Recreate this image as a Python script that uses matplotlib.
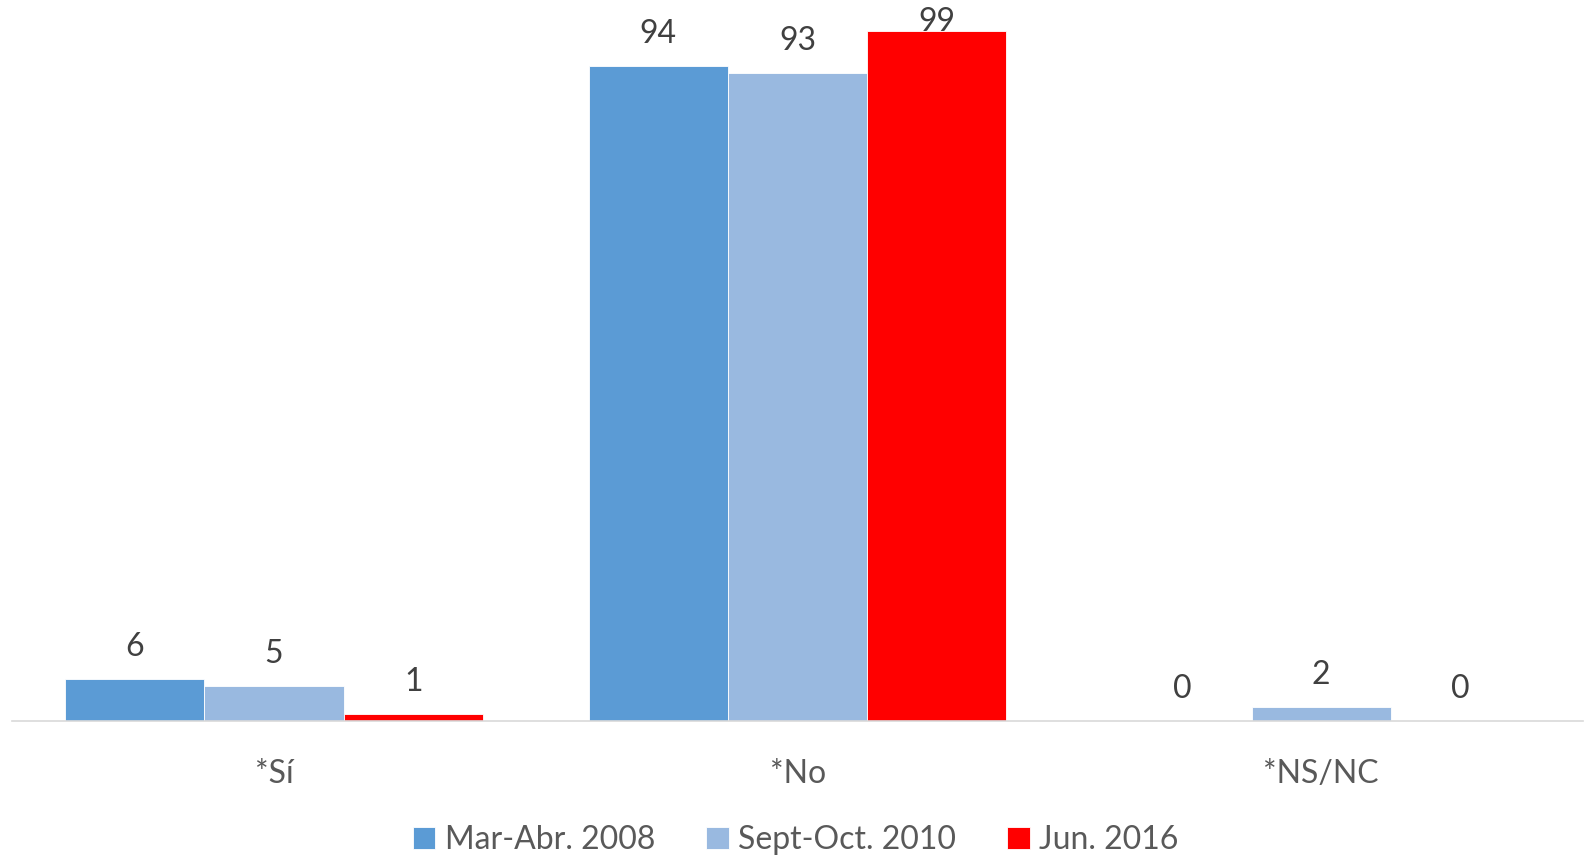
import matplotlib
matplotlib.use("Agg")
import matplotlib.pyplot as plt
import numpy as np

categories = ["*Sí", "*No", "*NS/NC"]
series_names = ["Mar-Abr. 2008", "Sept-Oct. 2010", "Jun. 2016"]
values_2008 = [6, 94, 0]
values_2010 = [5, 93, 2]
values_2016 = [1, 99, 0]
colors = ["#5B9BD5", "#99B9E0", "#FF0000"]

plt.rcParams['font.family'] = ['Lato', 'DejaVu Sans']

fig = plt.figure(figsize=(15.85, 8.59), dpi=100)
ax = fig.add_axes([0.0077, 0.1612, 0.991, 0.8388])

x = np.arange(len(categories))
w = 0.266
ymax = 103.5
all_vals = [values_2008, values_2010, values_2016]
for i, (vals, name, c) in enumerate(zip(all_vals, series_names, colors)):
    pos = x + (i - 1) * w
    ax.bar(pos, vals, w, color=c, label=name, edgecolor='white', linewidth=0.6)
    for p, v in zip(pos, vals):
        ly = min(v + 4.6, ymax - 3.2)
        ax.text(p, ly, str(v), ha='center', va='center', fontsize=23, color='#404040')

ax.set_xlim(-0.5, 2.5)
ax.set_ylim(0, ymax)
ax.set_yticks([])
ax.set_xticks(x)
ax.set_xticklabels(categories, fontsize=23, color='#595959')
ax.tick_params(axis='x', length=0, pad=28)
for s in ['top', 'right', 'left']:
    ax.spines[s].set_visible(False)
ax.spines['bottom'].set_color('#D9D9D9')
ax.spines['bottom'].set_linewidth(1.2)

leg = fig.legend(loc='center', bbox_to_anchor=(0.502, 0.022), ncol=3, frameon=False,
                 fontsize=23, handlelength=0.7, handleheight=0.7, handletextpad=0.3,
                 columnspacing=1.6)
for t in leg.get_texts():
    t.set_color('#595959')

fig.savefig("out.png", dpi=100)
